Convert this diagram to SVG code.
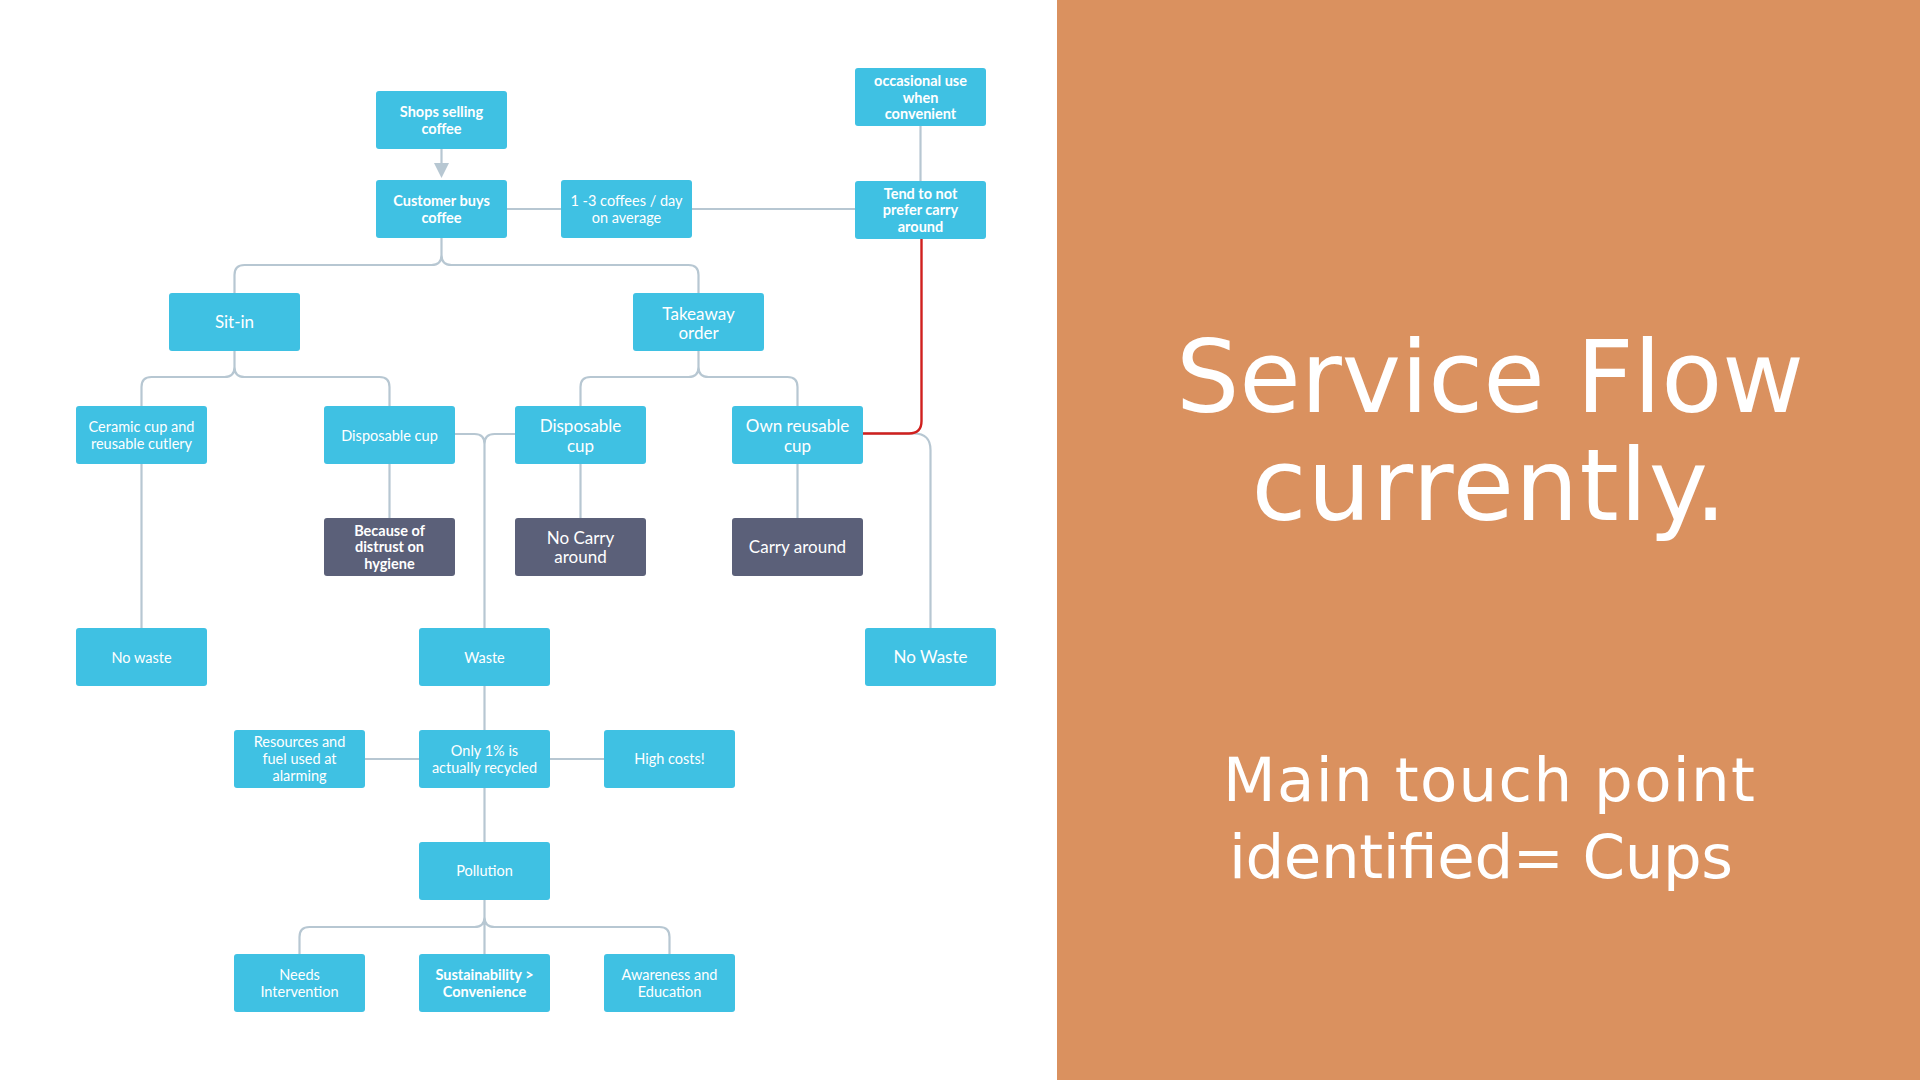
<svg xmlns="http://www.w3.org/2000/svg" width="1920" height="1080" viewBox="0 0 1920 1080">
<defs>
<style>
.n{fill:#3fc1e3}
.d{fill:#5b6079}
.t{font-family:Lato,"Liberation Sans",sans-serif;fill:#ffffff;text-anchor:middle}
.b{font-size:14.5px;font-weight:700}
.s{font-size:14.5px;font-weight:400}
.l{font-size:17px;font-weight:400}
.c{fill:none;stroke:#b7c7d2;stroke-width:2.2}
.r{fill:none;stroke:#d0201e;stroke-width:2.4}
.h{font-family:"DejaVu Sans",sans-serif;fill:#ffffff;text-anchor:middle}
</style>
</defs>
<rect x="0" y="0" width="1920" height="1080" fill="#ffffff"/>
<rect x="1057" y="0" width="863" height="1080" fill="#da915f"/>
<g id="title">
<text class="h" x="1490" y="412" font-size="100" textLength="628">Service Flow</text>
<text class="h" x="1489" y="520" font-size="100" textLength="475">currently.</text>
<text class="h" x="1489" y="801" font-size="61" textLength="532">Main touch point</text>
<text class="h" x="1481" y="878" font-size="61" textLength="504">identified= Cups</text>
</g>
<g id="connectors">
<path class="c" d="M441.5,149 V163"/>
<path d="M434,163 L449,163 L441.5,178 Z" fill="#b7c7d2"/>
<path class="c" d="M507,209 H561"/>
<path class="c" d="M692,209 H855"/>
<path class="c" d="M920.5,126 V181"/>
<path class="c" d="M441.5,238 V255 Q441.5,265 431.5,265 H244.5 Q234.5,265 234.5,275 V293 M441.5,255 Q441.5,265 451.5,265 H688.5 Q698.5,265 698.5,275 V293"/>
<path class="c" d="M234.5,351 V367 Q234.5,377 224.5,377 H151.5 Q141.5,377 141.5,387 V406 M234.5,367 Q234.5,377 244.5,377 H379.5 Q389.5,377 389.5,387 V406"/>
<path class="c" d="M698.5,351 V367 Q698.5,377 688.5,377 H590.5 Q580.5,377 580.5,387 V406 M698.5,367 Q698.5,377 708.5,377 H787.5 Q797.5,377 797.5,387 V406"/>
<path class="c" d="M141.5,464 V628"/>
<path class="c" d="M389.5,464 V518"/>
<path class="c" d="M580.5,464 V518"/>
<path class="c" d="M797.5,464 V518"/>
<path class="c" d="M455,434 H474.5 Q484.5,434 484.5,444 V628 M515,434 H494.5 Q484.5,434 484.5,444"/>
<path class="c" d="M863,433.5 H914 Q930.5,433.5 930.5,450 V628"/>
<path class="r" d="M921.5,239 V421 Q921.5,433.5 909,433.5 H863"/>
<path class="c" d="M484.5,686 V730"/>
<path class="c" d="M365,759 H419"/>
<path class="c" d="M550,759 H604"/>
<path class="c" d="M484.5,788 V842"/>
<path class="c" d="M484.5,900 V954 M484.5,917 Q484.5,927 474.5,927 H309.5 Q299.5,927 299.5,937 V954 M484.5,917 Q484.5,927 494.5,927 H659.5 Q669.5,927 669.5,937 V954"/>
</g>
<g id="occasional"><rect class="n" x="855" y="68" width="131" height="58" rx="3"/>
<text class="t b" x="920.5" y="86">occasional use</text><text class="t b" x="920.5" y="102.5">when</text><text class="t b" x="920.5" y="119">convenient</text></g>
<g id="shops"><rect class="n" x="376" y="91" width="131" height="58" rx="3"/>
<text class="t b" x="441.5" y="117">Shops  selling</text><text class="t b" x="441.5" y="133.5">coffee</text></g>
<g id="customer"><rect class="n" x="376" y="180" width="131" height="58" rx="3"/>
<text class="t b" x="441.5" y="206">Customer buys</text><text class="t b" x="441.5" y="222.5">coffee</text></g>
<g id="coffees"><rect class="n" x="561" y="180" width="131" height="58" rx="3"/>
<text class="t s" x="626.5" y="206">1 -3 coffees / day</text><text class="t s" x="626.5" y="223">on average</text></g>
<g id="tend"><rect class="n" x="855" y="181" width="131" height="58" rx="3"/>
<text class="t b" x="920.5" y="198.5">Tend to not</text><text class="t b" x="920.5" y="215">prefer carry</text><text class="t b" x="920.5" y="232">around</text></g>
<g id="sitin"><rect class="n" x="169" y="293" width="131" height="58" rx="3"/>
<text class="t l" x="234.5" y="328">Sit-in</text></g>
<g id="takeaway"><rect class="n" x="633" y="293" width="131" height="58" rx="3"/>
<text class="t l" x="698.5" y="319.5">Takeaway</text><text class="t l" x="698.5" y="339">order</text></g>
<g id="ceramic"><rect class="n" x="76" y="406" width="131" height="58" rx="3"/>
<text class="t s" x="141.5" y="431.5">Ceramic cup and</text><text class="t s" x="141.5" y="449">reusable cutlery</text></g>
<g id="disposable-sitin"><rect class="n" x="324" y="406" width="131" height="58" rx="3"/>
<text class="t s" x="389.5" y="440.5">Disposable cup</text></g>
<g id="disposable-takeaway"><rect class="n" x="515" y="406" width="131" height="58" rx="3"/>
<text class="t l" x="580.5" y="432">Disposable</text><text class="t l" x="580.5" y="451.5">cup</text></g>
<g id="own-reusable"><rect class="n" x="732" y="406" width="131" height="58" rx="3"/>
<text class="t l" x="797.5" y="432">Own reusable</text><text class="t l" x="797.5" y="451.5">cup</text></g>
<g id="because"><rect class="d" x="324" y="518" width="131" height="58" rx="3"/>
<text class="t b" x="389.5" y="535.5">Because of</text><text class="t b" x="389.5" y="552">distrust on</text><text class="t b" x="389.5" y="569">hygiene</text></g>
<g id="no-carry"><rect class="d" x="515" y="518" width="131" height="58" rx="3"/>
<text class="t l" x="580.5" y="544">No Carry</text><text class="t l" x="580.5" y="563">around</text></g>
<g id="carry"><rect class="d" x="732" y="518" width="131" height="58" rx="3"/>
<text class="t l" x="797.5" y="553.3">Carry around</text></g>
<g id="no-waste-1"><rect class="n" x="76" y="628" width="131" height="58" rx="3"/>
<text class="t s" x="141.5" y="662.5">No waste</text></g>
<g id="waste"><rect class="n" x="419" y="628" width="131" height="58" rx="3"/>
<text class="t s" x="484.5" y="662.5">Waste</text></g>
<g id="no-waste-2"><rect class="n" x="865" y="628" width="131" height="58" rx="3"/>
<text class="t l" x="930.5" y="662.7">No Waste</text></g>
<g id="resources"><rect class="n" x="234" y="730" width="131" height="58" rx="3"/>
<text class="t s" x="299.5" y="747">Resources and</text><text class="t s" x="299.5" y="764">fuel used at</text><text class="t s" x="299.5" y="781.3">alarming</text></g>
<g id="only"><rect class="n" x="419" y="730" width="131" height="58" rx="3"/>
<text class="t s" x="484.5" y="755.7">Only 1% is</text><text class="t s" x="484.5" y="772.7">actually recycled</text></g>
<g id="high"><rect class="n" x="604" y="730" width="131" height="58" rx="3"/>
<text class="t s" x="669.5" y="764.4">High costs!</text></g>
<g id="pollution"><rect class="n" x="419" y="842" width="131" height="58" rx="3"/>
<text class="t s" x="484.5" y="876.4">Pollution</text></g>
<g id="needs"><rect class="n" x="234" y="954" width="131" height="58" rx="3"/>
<text class="t s" x="299.5" y="980.4">Needs</text><text class="t s" x="299.5" y="997.4">Intervention</text></g>
<g id="sustainability"><rect class="n" x="419" y="954" width="131" height="58" rx="3"/>
<text class="t b" x="484.5" y="980.4">Sustainability &gt;</text><text class="t b" x="484.5" y="997.4">Convenience</text></g>
<g id="awareness"><rect class="n" x="604" y="954" width="131" height="58" rx="3"/>
<text class="t s" x="669.5" y="980.4">Awareness and</text><text class="t s" x="669.5" y="997.4">Education</text></g>
</svg>
